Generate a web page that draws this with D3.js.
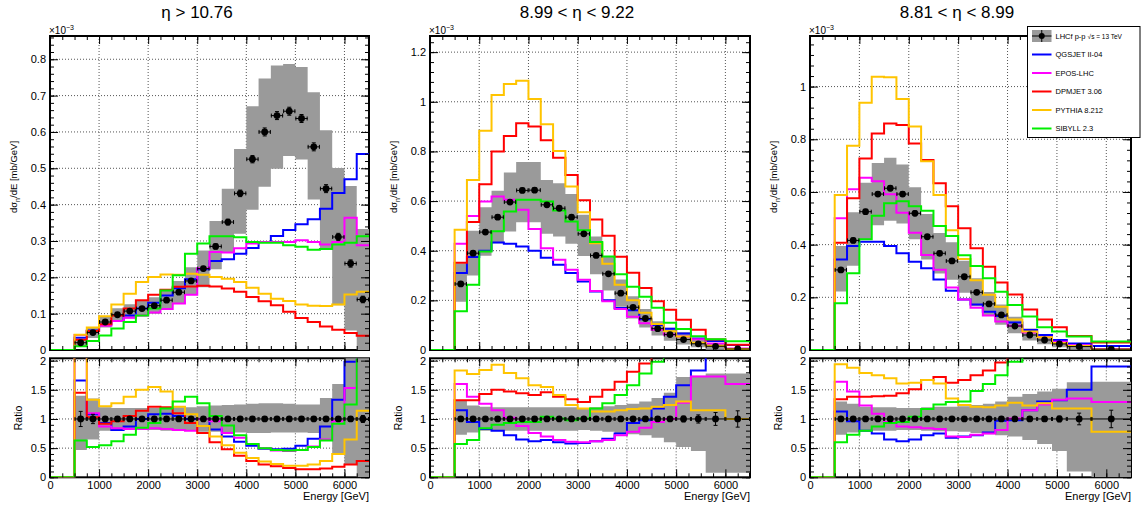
<!DOCTYPE html>
<html>
<head>
<meta charset="utf-8">
<script src="https://cdn.jsdelivr.net/npm/d3@7"></script>
<style>
  body { margin: 0; background: #fff; }
  svg { display: block; font-family: "Liberation Sans", Arial, Helvetica, sans-serif; }
</style>
</head>
<body>
<div id="chart"></div>
<script>
// ---- data (upper panels in units of 1e-3 mb/GeV) ----
const edgesA = [500,750,1000,1250,1500,1750,2000,2250,2500,2750,3000,3250,3500,3750,4000,4250,4500,4750,5000,5250,5500,5750,6000,6250,6500];
const edgesB = [500,750,1000,1250,1500,1750,2000,2250,2500,2750,3000,3250,3500,3750,4000,4250,4500,4750,5000,5300,5600,6000,6500];
const edgesC = [500,750,1000,1250,1500,1750,2000,2250,2500,2750,3000,3250,3500,3750,4000,4300,4600,4900,5200,5700,6500];

const xTicks = [0,1000,2000,3000,4000,5000,6000];
const yTicksA = [0,0.1,0.2,0.3,0.4,0.5,0.6,0.7,0.8];
const yTicksB = [0,0.2,0.4,0.6,0.8,1,1.2];
const yTicksC = [0,0.2,0.4,0.6,0.8,1];
const ratioTicks = [0,0.5,1,1.5,2];

// eta > 10.76
const dataA   = [0.020,0.048,0.077,0.097,0.107,0.114,0.122,0.137,0.159,0.190,0.224,0.285,0.352,0.431,0.525,0.600,0.645,0.657,0.637,0.559,0.444,0.311,0.238,0.139];
const statA   = [0.003,0.004,0.004,0.004,0.004,0.004,0.004,0.005,0.005,0.005,0.006,0.007,0.008,0.009,0.010,0.011,0.011,0.011,0.011,0.011,0.011,0.010,0.010,0.009];
const bandLoA = [0.010,0.033,0.062,0.080,0.087,0.093,0.100,0.110,0.128,0.152,0.173,0.222,0.267,0.320,0.386,0.449,0.499,0.534,0.524,0.414,0.280,0.123,0.054,0.000];
const bandHiA = [0.028,0.063,0.092,0.115,0.126,0.135,0.145,0.163,0.190,0.228,0.274,0.355,0.444,0.553,0.671,0.747,0.783,0.787,0.779,0.709,0.605,0.501,0.451,0.333];
const qgsA    = [0.034,0.054,0.070,0.080,0.095,0.114,0.130,0.150,0.170,0.195,0.222,0.245,0.250,0.265,0.281,0.297,0.314,0.330,0.346,0.360,0.389,0.432,0.470,0.539];
const eposA   = [0.041,0.052,0.067,0.080,0.089,0.095,0.103,0.113,0.128,0.152,0.225,0.270,0.268,0.280,0.293,0.297,0.297,0.297,0.302,0.297,0.290,0.297,0.364,0.288];
const dpmA    = [0.028,0.052,0.071,0.095,0.114,0.137,0.152,0.166,0.174,0.175,0.177,0.175,0.169,0.160,0.146,0.134,0.123,0.105,0.088,0.077,0.065,0.056,0.047,0.039];
const pyA     = [0.042,0.062,0.093,0.125,0.155,0.187,0.201,0.208,0.207,0.210,0.207,0.201,0.196,0.187,0.171,0.155,0.141,0.135,0.125,0.122,0.121,0.125,0.153,0.160];
const sibA    = [0.010,0.025,0.040,0.059,0.077,0.095,0.114,0.164,0.206,0.265,0.293,0.313,0.313,0.310,0.297,0.295,0.295,0.288,0.284,0.276,0.278,0.290,0.295,0.313];
const rStatA  = [0.13,0.08,0.04,0.03,0.03,0.03,0.03,0.03,0.03,0.03,0.03,0.03,0.02,0.02,0.02,0.02,0.02,0.02,0.02,0.02,0.02,0.03,0.04,0.06];
const rLoA    = [0.47,0.65,0.80,0.80,0.81,0.81,0.81,0.80,0.80,0.80,0.78,0.78,0.77,0.77,0.76,0.76,0.77,0.77,0.77,0.76,0.63,0.40,0.22,0.00];
const rHiA    = [1.40,1.35,1.20,1.19,1.19,1.19,1.19,1.20,1.20,1.20,1.22,1.23,1.24,1.25,1.26,1.27,1.27,1.26,1.25,1.25,1.36,1.60,2.10,2.10];
const rQgsA   = [1.66,1.08,0.93,0.81,0.87,1.00,1.08,1.09,1.05,1.00,1.00,0.82,0.70,0.61,0.54,0.49,0.48,0.49,0.54,0.66,0.87,1.33,1.98,2.50];
const rEposA  = [2.30,1.10,0.87,0.84,0.83,0.83,0.84,0.83,0.81,0.80,1.00,0.96,0.76,0.68,0.57,0.50,0.46,0.45,0.47,0.53,0.65,0.96,1.53,2.10];
const rDpmA   = [1.45,1.03,0.92,0.96,1.05,1.14,1.21,1.20,1.10,0.93,0.76,0.60,0.48,0.37,0.28,0.22,0.19,0.16,0.14,0.14,0.15,0.18,0.22,0.28];
const rPyA    = [2.30,1.33,1.22,1.27,1.38,1.50,1.55,1.47,1.21,1.08,0.88,0.70,0.55,0.42,0.33,0.27,0.23,0.20,0.20,0.22,0.28,0.40,0.65,1.14];
const rSibA   = [0.63,0.52,0.55,0.62,0.73,0.85,0.93,1.18,1.30,1.38,1.27,1.05,0.89,0.72,0.57,0.50,0.47,0.46,0.47,0.52,0.63,0.92,1.25,2.20];

// 8.99 < eta < 9.22
const dataB   = [0.266,0.390,0.475,0.535,0.596,0.643,0.644,0.585,0.571,0.535,0.468,0.381,0.307,0.229,0.172,0.127,0.086,0.062,0.042,0.025,0.015,0.004];
const statB   = [0.008,0.009,0.009,0.009,0.009,0.009,0.009,0.008,0.008,0.008,0.007,0.006,0.005,0.005,0.004,0.003,0.003,0.002,0.002,0.002,0.002,0.001];
const bandLoB = [0.194,0.300,0.380,0.430,0.477,0.515,0.515,0.468,0.457,0.428,0.379,0.305,0.240,0.174,0.127,0.091,0.058,0.037,0.022,0.011,0.001,0.000];
const bandHiB = [0.348,0.480,0.575,0.642,0.715,0.757,0.757,0.685,0.672,0.628,0.545,0.457,0.375,0.284,0.217,0.165,0.116,0.090,0.072,0.043,0.026,0.007];
const qgsB    = [0.310,0.375,0.400,0.433,0.428,0.417,0.400,0.372,0.343,0.310,0.276,0.236,0.200,0.169,0.160,0.124,0.101,0.086,0.066,0.046,0.036,0.020];
const eposB   = [0.428,0.540,0.598,0.618,0.605,0.565,0.487,0.410,0.364,0.323,0.283,0.238,0.196,0.165,0.134,0.108,0.082,0.062,0.054,0.043,0.026,0.006];
const dpmB    = [0.351,0.516,0.668,0.800,0.862,0.913,0.900,0.845,0.775,0.705,0.603,0.526,0.460,0.376,0.311,0.250,0.196,0.162,0.122,0.082,0.042,0.021];
const pyB     = [0.484,0.685,0.883,1.027,1.072,1.085,1.011,0.909,0.802,0.659,0.555,0.430,0.347,0.263,0.200,0.150,0.105,0.076,0.054,0.029,0.017,0.004];
const sibB    = [0.156,0.263,0.397,0.478,0.558,0.605,0.605,0.598,0.562,0.518,0.482,0.435,0.377,0.305,0.255,0.215,0.170,0.110,0.085,0.055,0.043,0.035];
const rStatB  = [0.04,0.03,0.02,0.02,0.02,0.02,0.02,0.02,0.02,0.02,0.02,0.02,0.02,0.02,0.02,0.03,0.03,0.04,0.05,0.07,0.11,0.14];
const rLoB    = [0.73,0.77,0.80,0.80,0.80,0.80,0.80,0.80,0.80,0.80,0.81,0.80,0.78,0.76,0.74,0.72,0.68,0.60,0.52,0.45,0.08,0.08];
const rHiB    = [1.31,1.23,1.21,1.20,1.20,1.20,1.20,1.20,1.20,1.20,1.19,1.20,1.22,1.24,1.26,1.30,1.36,1.45,1.72,1.74,1.78,1.78];
const rQgsB   = [1.15,0.95,0.83,0.80,0.72,0.65,0.62,0.64,0.60,0.58,0.59,0.62,0.66,0.75,0.93,0.98,1.18,1.38,1.58,1.83,2.30,2.50];
const rEposB  = [1.60,1.38,1.26,1.15,1.02,0.88,0.76,0.70,0.64,0.61,0.60,0.62,0.64,0.72,0.78,0.85,0.95,1.00,1.28,1.73,1.73,1.60];
const rDpmB   = [1.32,1.32,1.43,1.50,1.47,1.44,1.41,1.46,1.38,1.34,1.29,1.38,1.50,1.64,1.81,1.95,2.30,2.60,2.90,3.30,2.80,5.00];
const rPyB    = [1.83,1.77,1.84,1.93,1.79,1.70,1.58,1.55,1.41,1.24,1.18,1.13,1.13,1.15,1.17,1.18,1.21,1.24,1.30,1.15,1.15,1.00];
const rSibB   = [0.57,0.64,0.84,0.90,0.93,0.95,0.95,1.04,1.01,0.98,1.01,1.18,1.27,1.41,1.58,1.78,1.98,2.20,2.40,2.60,3.00,5.00];

// 8.81 < eta < 8.99
const dataC   = [0.304,0.416,0.525,0.592,0.614,0.592,0.519,0.430,0.367,0.338,0.278,0.219,0.175,0.133,0.091,0.057,0.038,0.023,0.013,0.003];
const statC   = [0.008,0.009,0.009,0.009,0.009,0.009,0.009,0.008,0.008,0.007,0.006,0.005,0.005,0.004,0.003,0.003,0.002,0.002,0.001,0.001];
const bandLoC = [0.222,0.320,0.420,0.474,0.491,0.480,0.420,0.344,0.290,0.267,0.217,0.166,0.130,0.096,0.064,0.036,0.022,0.010,0.001,0.000];
const bandHiC = [0.395,0.523,0.635,0.710,0.730,0.704,0.618,0.516,0.444,0.409,0.339,0.272,0.220,0.173,0.126,0.082,0.056,0.035,0.021,0.005];
const qgsC    = [0.344,0.395,0.411,0.411,0.395,0.367,0.335,0.310,0.268,0.225,0.192,0.173,0.145,0.129,0.104,0.076,0.057,0.038,0.025,0.015];
const eposC   = [0.500,0.610,0.654,0.641,0.591,0.521,0.445,0.361,0.305,0.237,0.192,0.160,0.131,0.108,0.092,0.066,0.048,0.031,0.018,0.004];
const dpmC    = [0.407,0.576,0.727,0.822,0.860,0.854,0.784,0.721,0.633,0.546,0.462,0.386,0.316,0.256,0.211,0.154,0.116,0.086,0.053,0.028];
const pyC     = [0.588,0.775,0.939,1.037,1.035,0.953,0.848,0.717,0.588,0.455,0.345,0.265,0.210,0.164,0.116,0.070,0.048,0.027,0.015,0.002];
const sibC    = [0.177,0.291,0.420,0.510,0.557,0.565,0.546,0.529,0.471,0.433,0.360,0.319,0.272,0.221,0.171,0.127,0.086,0.070,0.051,0.032];
const rStatC  = [0.04,0.03,0.02,0.02,0.02,0.02,0.02,0.02,0.02,0.02,0.02,0.02,0.02,0.02,0.02,0.03,0.04,0.05,0.10,0.15];
const rLoC    = [0.73,0.77,0.80,0.80,0.80,0.81,0.81,0.80,0.79,0.79,0.78,0.76,0.74,0.72,0.70,0.64,0.57,0.45,0.10,0.00];
const rHiC    = [1.30,1.26,1.21,1.20,1.20,1.19,1.19,1.20,1.21,1.21,1.22,1.24,1.26,1.30,1.38,1.43,1.47,1.52,1.63,1.64];
const rQgsC   = [1.13,0.96,0.80,0.75,0.65,0.62,0.65,0.72,0.75,0.68,0.70,0.72,0.77,0.97,0.98,1.15,1.30,1.32,1.50,1.90];
const rEposC  = [1.64,1.47,1.23,1.09,0.95,0.87,0.86,0.84,0.83,0.70,0.69,0.73,0.75,0.81,1.01,1.15,1.25,1.33,1.35,1.29];
const rDpmC   = [1.34,1.38,1.38,1.39,1.40,1.44,1.51,1.67,1.72,1.62,1.67,1.75,1.83,1.97,2.30,2.70,3.00,3.50,4.00,5.00];
const rPyC    = [1.94,1.88,1.79,1.75,1.70,1.61,1.62,1.67,1.61,1.35,1.24,1.21,1.20,1.23,1.28,1.23,1.27,1.18,1.18,0.78];
const rSibC   = [0.60,0.73,0.80,0.87,0.93,0.95,1.04,1.17,1.25,1.29,1.30,1.48,1.60,1.75,1.98,2.30,2.50,3.00,4.00,5.00];

const modelNames  = ['QGSJET II-04', 'EPOS-LHC', 'DPMJET 3.06', 'PYTHIA 8.212', 'SIBYLL 2.3'];
const modelColors = ['#0000ff', '#ff00ff', '#ff0000', '#ffc400', '#00ee00'];

// ---- layout ----
const width = 1144, height = 506;
const TOP = 36, MID = 350, RTOP = 358.3, RBOT = 477.3, RMAX = 2.04;
const BAND = '#9a9a9a';

const panels = [
    { title: 'η > 10.76', left: 50, right: 369, yMax: 0.864, yTicks: yTicksA, yMinor: 0.02,
      upper: { edges: edgesA, data: dataA, stat: statA, lo: bandLoA, hi: bandHiA, models: [qgsA, eposA, dpmA, pyA, sibA] },
      ratio: { edges: edgesA, data: dataA.map(() => 1), stat: rStatA, lo: rLoA, hi: rHiA, models: [rQgsA, rEposA, rDpmA, rPyA, rSibA] } },
    { title: '8.99 < η < 9.22', left: 430, right: 750, yMax: 1.265, yTicks: yTicksB, yMinor: 0.04,
      upper: { edges: edgesB, data: dataB, stat: statB, lo: bandLoB, hi: bandHiB, models: [qgsB, eposB, dpmB, pyB, sibB] },
      ratio: { edges: edgesB, data: dataB.map(() => 1), stat: rStatB, lo: rLoB, hi: rHiB, models: [rQgsB, rEposB, rDpmB, rPyB, rSibB] } },
    { title: '8.81 < η < 8.99', left: 810, right: 1131, yMax: 1.192, yTicks: yTicksC, yMinor: 0.04,
      upper: { edges: edgesC, data: dataC, stat: statC, lo: bandLoC, hi: bandHiC, models: [qgsC, eposC, dpmC, pyC, sibC] },
      ratio: { edges: edgesC, data: dataC.map(() => 1), stat: rStatC, lo: rLoC, hi: rHiC, models: [rQgsC, rEposC, rDpmC, rPyC, rSibC] } }
];

const svg = d3.select('#chart').append('svg')
    .attr('width', width)
    .attr('height', height);

const fmt = d => String(d);

function stepPoints(edges, vals) {
    let pts = [[0, 0]];
    vals.forEach((v, i) => pts.push([edges[i], v]));
    pts.push([edges[edges.length - 1], vals[vals.length - 1]]);
    return pts;
}

function drawPad(id, x, y, cfg, c) {
    let g = svg.append('g');
    let x0 = x.range()[0], x1 = x.range()[1];
    let y0 = y.range()[0], y1 = y.range()[1];

    svg.append('clipPath').attr('id', id)
        .append('rect')
        .attr('x', x0).attr('y', y1)
        .attr('width', x1 - x0).attr('height', y0 - y1);

    // grid
    g.append('g').selectAll('line').data(xTicks.filter(d => d > 0)).enter().append('line')
        .attr('x1', d => x(d)).attr('x2', d => x(d)).attr('y1', y1).attr('y2', y0)
        .style('stroke', '#555').style('stroke-dasharray', '1,2');
    g.append('g').selectAll('line').data(cfg.yTicks.filter(d => d > 0)).enter().append('line')
        .attr('x1', x0).attr('x2', x1).attr('y1', d => y(d)).attr('y2', d => y(d))
        .style('stroke', '#555').style('stroke-dasharray', '1,2');

    // frame
    g.append('rect')
        .attr('x', x0).attr('y', y1)
        .attr('width', x1 - x0).attr('height', y0 - y1)
        .style('fill', 'none').style('stroke', '#000').style('stroke-width', 2);

    let plot = g.append('g').attr('clip-path', `url(#${id})`);

    // systematic band
    let bandPts = c.lo.map((d, i) => ({ e: c.edges[i], lo: d, hi: c.hi[i] }));
    bandPts.push({ e: c.edges[c.edges.length - 1], lo: c.lo[c.lo.length - 1], hi: c.hi[c.hi.length - 1] });
    plot.append('path')
        .attr('d', d3.area().curve(d3.curveStepAfter)
            .x(d => x(d.e)).y0(d => y(d.lo)).y1(d => y(d.hi))(bandPts))
        .style('fill', BAND);

    // model histograms
    let line = d3.line().curve(d3.curveStepAfter).x(d => x(d[0])).y(d => y(d[1]));
    c.models.forEach((vals, i) => {
        plot.append('path')
            .attr('d', line(stepPoints(c.edges, vals)))
            .style('fill', 'none')
            .style('stroke', modelColors[i])
            .style('stroke-width', 2);
    });

    // data points
    let pts = c.data.map((v, i) => ({ lo: c.edges[i], hi: c.edges[i + 1], v: v, s: c.stat[i] }));
    let pg = plot.append('g').style('stroke', '#000').style('stroke-width', 1);
    pg.selectAll('.h').data(pts).enter().append('line')
        .attr('x1', d => x(d.lo)).attr('x2', d => x(d.hi))
        .attr('y1', d => y(d.v)).attr('y2', d => y(d.v));
    pg.selectAll('.v').data(pts).enter().append('line')
        .attr('x1', d => x((d.lo + d.hi) / 2)).attr('x2', d => x((d.lo + d.hi) / 2))
        .attr('y1', d => y(d.v - d.s)).attr('y2', d => y(d.v + d.s));
    pg.selectAll('.c').data(pts).enter().append('path')
        .attr('d', d => {
            let cx = x((d.lo + d.hi) / 2), ya = y(d.v - d.s), yb = y(d.v + d.s), yc = y(d.v);
            return `M${cx - 2},${ya}H${cx + 2}M${cx - 2},${yb}H${cx + 2}` +
                   `M${x(d.lo) + 0.5},${yc - 2}V${yc + 2}M${x(d.hi) - 0.5},${yc - 2}V${yc + 2}`;
        });
    plot.append('g').selectAll('circle').data(pts).enter().append('circle')
        .attr('cx', d => x((d.lo + d.hi) / 2)).attr('cy', d => y(d.v))
        .attr('r', 3.4).style('fill', '#000');

    // ticks, inward on all four sides
    let addAxis = (axis, tx, ty) => {
        let a = g.append('g').attr('transform', `translate(${tx},${ty})`).call(axis);
        a.select('.domain').remove();
        a.selectAll('text').style('font-size', '11px').style('font-family', null);
        return a;
    };
    let xMinor = d3.range(0, 6501, 250);
    let yMinor = d3.range(0, cfg.yMax + 1e-9, cfg.yMinor);
    addAxis(d3.axisBottom(x).tickValues(xTicks).tickSize(-8).tickPadding(4)
        .tickFormat(cfg.xLabels ? fmt : ''), 0, y0);
    addAxis(d3.axisBottom(x).tickValues(xMinor).tickSize(-4).tickFormat(''), 0, y0);
    addAxis(d3.axisTop(x).tickValues(xTicks).tickSize(-8).tickFormat(''), 0, y1);
    addAxis(d3.axisTop(x).tickValues(xMinor).tickSize(-4).tickFormat(''), 0, y1);
    addAxis(d3.axisLeft(y).tickValues(cfg.yTicks).tickSize(-8).tickPadding(4).tickFormat(fmt), x0, 0);
    addAxis(d3.axisLeft(y).tickValues(yMinor).tickSize(-4).tickFormat(''), x0, 0);
    addAxis(d3.axisRight(y).tickValues(cfg.yTicks).tickSize(-8).tickFormat(''), x1, 0);
    addAxis(d3.axisRight(y).tickValues(yMinor).tickSize(-4).tickFormat(''), x1, 0);
}

panels.forEach((p, i) => {
    let x = d3.scaleLinear().domain([0, 6500]).range([p.left, p.right]);
    let y = d3.scaleLinear().domain([0, p.yMax]).range([MID, TOP]);
    let yr = d3.scaleLinear().domain([0, RMAX]).range([RBOT, RTOP]);

    drawPad(`clipU${i}`, x, y, { yTicks: p.yTicks, yMax: p.yMax, yMinor: p.yMinor, xLabels: false }, p.upper);
    drawPad(`clipR${i}`, x, yr, { yTicks: ratioTicks, yMax: 2, yMinor: 0.1, xLabels: true }, p.ratio);

    svg.append('text')
        .attr('x', p.left + 147).attr('y', 18)
        .attr('text-anchor', 'middle')
        .style('font-size', '17px')
        .text(p.title);

    let ex = svg.append('text')
        .attr('x', p.left - 1).attr('y', 34)
        .style('font-size', '10px')
        .text('×10');
    ex.append('tspan').attr('dy', -4).style('font-size', '7px').text('−3');

    let yt = svg.append('text')
        .attr('transform', `translate(${p.left - 33},177) rotate(-90)`)
        .attr('text-anchor', 'middle')
        .style('font-size', '9.5px')
        .text('dσ');
    yt.append('tspan').attr('dy', 3).style('font-size', '7px').text('n');
    yt.append('tspan').attr('dy', -3).text('/dE [mb/GeV]');

    svg.append('text')
        .attr('transform', `translate(${p.left - 32},418) rotate(-90)`)
        .attr('text-anchor', 'middle')
        .attr('dy', '0.35em')
        .style('font-size', '10.5px')
        .text('Ratio');

    svg.append('text')
        .attr('x', p.right).attr('y', 500)
        .attr('text-anchor', 'end')
        .style('font-size', '11px')
        .text('Energy [GeV]');
});

// legend
let legend = svg.append('g').attr('transform', 'translate(1027.5,26.5)');
legend.append('rect')
    .attr('width', 112.5).attr('height', 111)
    .style('fill', '#fff').style('stroke', '#000').style('stroke-width', 1);
let rowY = i => 9.5 + i * 18.5;
let sym = legend.append('g').attr('transform', `translate(0,${rowY(0)})`);
sym.append('rect').attr('x', 4.5).attr('y', -6).attr('width', 19.5).attr('height', 12).style('fill', BAND);
sym.append('line').attr('x1', 4.5).attr('x2', 24).style('stroke', '#000');
sym.append('line').attr('x1', 14.25).attr('x2', 14.25).attr('y1', -6).attr('y2', 6).style('stroke', '#000');
sym.append('circle').attr('cx', 14.25).attr('r', 3).style('fill', '#000');
let lt = sym.append('text').attr('x', 28).attr('dy', '0.35em').style('font-size', '7.5px').text('LHCf p-p ');
lt.append('tspan').style('font-size', '6.5px').text('√s = 13 TeV');

let items = legend.selectAll('.legend-item')
    .data(modelNames)
    .enter().append('g')
    .classed('legend-item', true)
    .attr('transform', (d, i) => `translate(0,${rowY(i + 1)})`);
items.append('line')
    .attr('x1', 4.5).attr('x2', 24)
    .style('stroke', (d, i) => modelColors[i])
    .style('stroke-width', 2);
items.append('text')
    .attr('x', 28).attr('dy', '0.35em')
    .style('font-size', '7.5px')
    .text(d => d);
</script>
</body>
</html>
